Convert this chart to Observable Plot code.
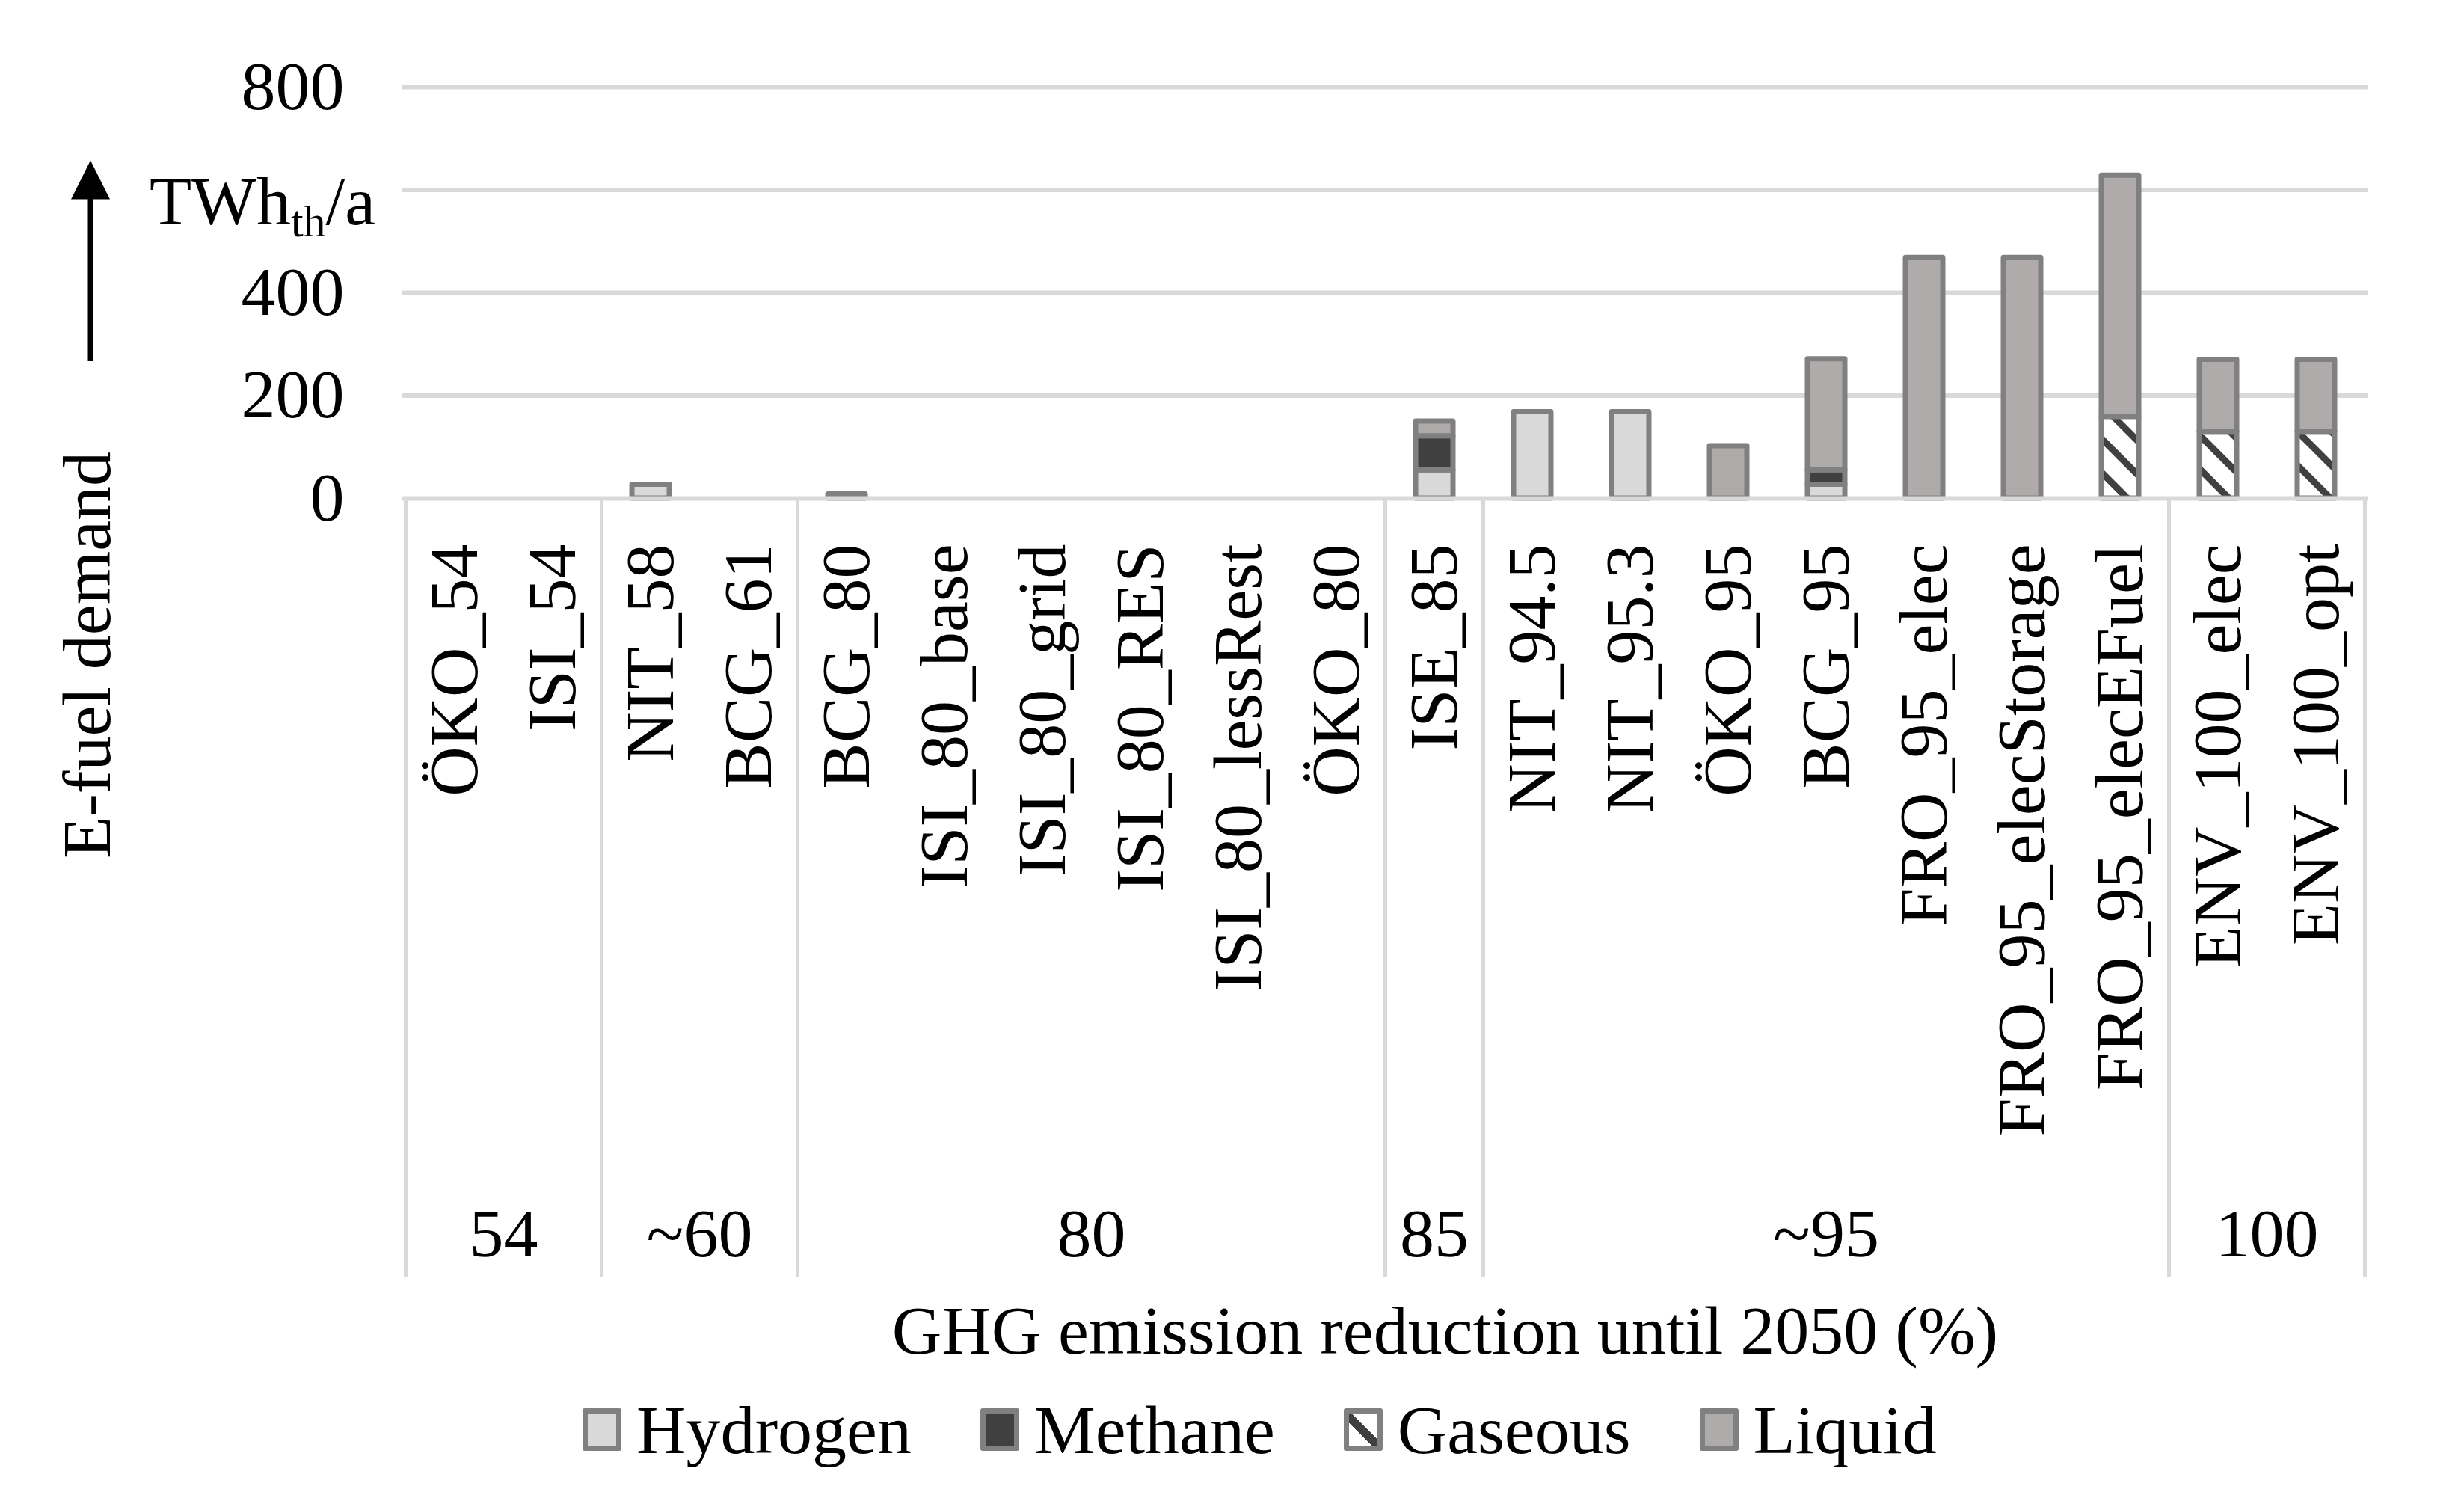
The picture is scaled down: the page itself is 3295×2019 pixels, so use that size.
<!DOCTYPE html>
<html><head><meta charset="utf-8">
<script src="https://cdn.jsdelivr.net/npm/d3@7"></script>
<script src="https://cdn.jsdelivr.net/npm/@observablehq/plot@0.6"></script>
<style>
html,body{margin:0;padding:0;background:#fff;}
#chart{width:3295px;}
.legend{display:flex;align-items:center;height:123px;padding-left:779px;font-family:"Liberation Serif",serif;font-size:92px;line-height:92px;color:#000;}
.sw{width:52px;height:57px;border:7px solid #808080;box-sizing:border-box;border-radius:3px;margin-right:20px;flex:none;}
.item{display:flex;align-items:center;margin-right:92px;}
</style></head>
<body><div id="chart"></div>
<script>
const scenarios = ["ÖKO_54","ISI_54","NIT_58","BCG_61","BCG_80","ISI_80_base","ISI_80_grid","ISI_80_RES","ISI_80_lessRest","ÖKO_80","ISE_85","NIT_94.5","NIT_95.3","ÖKO_95","BCG_95","FRO_95_elec","FRO_95_elecStorage","FRO_95_elecEFuel","ENV_100_elec","ENV_100_opt"];
const hydrogen = [0,0,27,0,0,0,0,0,0,0,55,168,168,0,27,0,0,0,0,0];
const methane  = [0,0,0,0,0,0,0,0,0,0,66,0,0,0,28,0,0,0,0,0];
const gaseous  = [0,0,0,0,0,0,0,0,0,0,0,0,0,0,0,0,0,159,130,130];
const liquid   = [0,0,0,0,8,0,0,0,0,0,29,0,0,102,216,468,468,469,140,140];
const fuelTypes = ["Hydrogen","Methane","Gaseous","Liquid"];
const fuelColors = ["#d9d9d9","#404040","url(#gaseous-stripes)","#afabab"];
const groupLabels = ["54","~60","80","85","~95","100"];
const groupSizes = [2,2,6,1,7,2];
const yTickValues = [0,200,400,800];
const yGridValues = [200,400,600,800];
const unitTickValue = 600;
const yTitle = "E-fuel demand";
const xTitle = "GHG emission reduction until 2050 (%)";

const series = [hydrogen, methane, gaseous, liquid];
const data = [];
fuelTypes.forEach((t, i) => scenarios.forEach((s, j) => {
  if (series[i][j] > 0) data.push({scenario: s, type: t, value: series[i][j]});
}));

const FONT = "Liberation Serif";

function decorations(index, scales, values, dim) {
  const x = scales.x, y = scales.y;
  const step = x(scenarios[1]) - x(scenarios[0]);
  const bw = x.bandwidth ? x.bandwidth() : step * 0.38;
  const off = (step - bw) / 2;
  const g = d3.create("svg:g").attr("font-family", FONT).attr("fill", "#000");
  const y0 = y(0);
  const sepBottom = y0 + 1041;
  let k = 0;
  const bounds = [x(scenarios[0]) - off];
  const groups = [];
  groupSizes.forEach((n, i) => {
    const first = scenarios[k], last = scenarios[k + n - 1];
    const a = x(first) - off, b = x(last) + bw + off;
    groups.push({label: groupLabels[i], cx: (a + b) / 2});
    bounds.push(b);
    k += n;
  });
  bounds.forEach(b => g.append("line").attr("x1", b).attr("x2", b).attr("y1", y0).attr("y2", sepBottom)
    .attr("stroke", "#d9d9d9").attr("stroke-width", 5));
  groups.forEach(d => g.append("text").attr("x", d.cx).attr("y", y0 + 1014).attr("text-anchor", "middle")
    .attr("font-size", 92).text(d.label));
  g.append("text").attr("x", (dim.marginLeft + dim.width - dim.marginRight) / 2 + 80).attr("y", y0 + 1144)
    .attr("text-anchor", "middle").attr("font-size", 92).text(xTitle);
  g.append("text").attr("transform", `translate(147,${y0 + 210}) rotate(-90)`).attr("text-anchor", "middle")
    .attr("font-size", 92).text(yTitle);
  const yu = y(unitTickValue);
  g.append("line").attr("x1", 121).attr("x2", 121).attr("y1", y0 - 183).attr("y2", yu + 10)
    .attr("stroke", "#000").attr("stroke-width", 7);
  g.append("path").attr("d", `M95,${yu + 13}L147,${yu + 13}L121,${yu - 39}Z`).attr("fill", "#000");
  const t = g.append("text").attr("x", dim.marginLeft - 36).attr("y", yu + 46).attr("text-anchor", "end").attr("font-size", 92);
  t.append("tspan").text("TWh");
  t.append("tspan").attr("font-size", 60).attr("dy", 16).text("th");
  t.append("tspan").attr("font-size", 92).attr("dy", -16).text("/a");
  return g.node();
}

const chart = Plot.plot({
  width: 3295,
  height: 1850,
  marginTop: 116,
  marginBottom: 1850 - 666,
  marginLeft: 538,
  marginRight: 128,
  style: {fontFamily: FONT, fontSize: "92px", color: "#000", background: "#fff", overflow: "visible"},
  x: {type: "band", domain: scenarios, paddingInner: 0.62, paddingOuter: 0.31, axis: null},
  y: {domain: [0, 800], axis: null},
  color: {domain: fuelTypes, range: fuelColors},
  marks: [
    Plot.gridY(yGridValues, {stroke: "#d9d9d9", strokeOpacity: 1, strokeWidth: 6}),
    Plot.barY(data, {x: "scenario", y: "value", fill: "type", stroke: "#808080", strokeWidth: 7, strokeLinejoin: "round"}),
    Plot.ruleY([0], {stroke: "#d9d9d9", strokeWidth: 6}),
    Plot.axisY(yTickValues, {tickSize: 0, tickPadding: 78, fontSize: 92, label: null, fill: "#000"}),
    Plot.axisX({tickRotate: -90, tickSize: 0, tickPadding: 61, fontSize: 92, label: null, fill: "#000"}),
    decorations
  ]
});

d3.select(chart).insert("defs", ":first-child").html(
  '<pattern id="gaseous-stripes" patternUnits="userSpaceOnUse" width="32" height="32" patternTransform="rotate(-45)">' +
  '<rect width="32" height="32" fill="#fff"/><rect x="0" y="0" width="9" height="32" fill="#404040"/></pattern>');

document.getElementById("chart").appendChild(chart);

const legend = d3.select("body").append("div").attr("class", "legend");
const swatchBg = {
  Hydrogen: "#d9d9d9", Methane: "#404040", Liquid: "#afabab",
  Gaseous: "linear-gradient(45deg, #fff 0 38%, #404040 38% 58%, #fff 58% 100%)"
};
fuelTypes.forEach((t, i) => {
  const it = legend.append("div").attr("class", "item");
  if (i === fuelTypes.length - 1) it.style("margin-right", "0");
  it.append("div").attr("class", "sw").style("background", swatchBg[t]);
  it.append("span").text(t);
});
</script>
</body></html>
